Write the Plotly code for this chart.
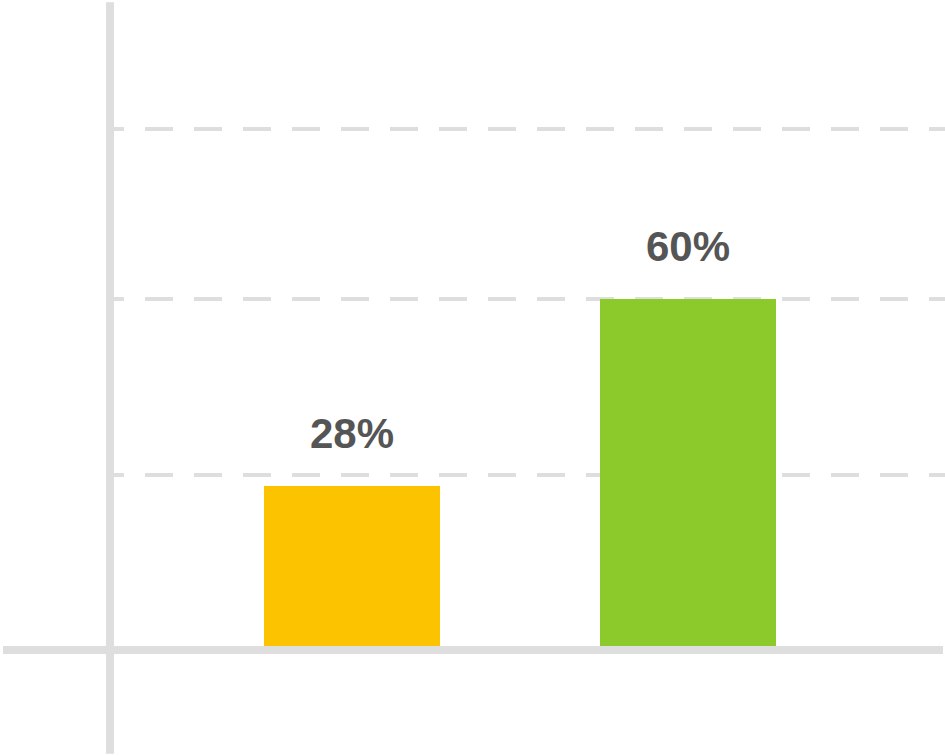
import plotly.graph_objects as go

categories = ["A", "B"]
values = [28, 60]
colors = ["#FCC400", "#8CC92A"]
grid_values = [30, 60, 89]

AXIS = "#DEDEDE"
W, H = 945, 756
L = 114
plot_w = W - L

fig = go.Figure()
fig.add_trace(go.Bar(
    x=categories, y=values, marker=dict(color=colors, line=dict(width=0)),
    width=0.524, hoverinfo="skip", showlegend=False,
))

for c, v in zip(categories, values):
    fig.add_annotation(x=c, y=v, text=f"<b>{v}%</b>", showarrow=False,
                       yanchor="middle", yshift=53,
                       font=dict(family="Liberation Sans, Arial, sans-serif", size=42, color="#555555"))

# axis lines
fig.add_shape(type="line", xref="paper", yref="paper",
              x0=(110 - L) / plot_w, x1=(110 - L) / plot_w, y0=0.003, y1=0.997,
              line=dict(color=AXIS, width=8), layer="above")
fig.add_shape(type="line", xref="paper", yref="y",
              x0=(3 - L) / plot_w, x1=(943 - L) / plot_w, y0=0, y1=0,
              line=dict(color=AXIS, width=8), layer="above")

dash = "10px,21px," + "28px,21px," * 17 + "28px,21px"
k = 5.85
zero_px = 650
fig.update_layout(
    width=W, height=H, margin=dict(l=L, r=0, t=0, b=0),
    paper_bgcolor="white", plot_bgcolor="white",
    xaxis=dict(range=[-238 / 336, (plot_w - 238) / 336], showgrid=False, zeroline=False,
               showticklabels=False, showline=False, fixedrange=True),
    yaxis=dict(range=[-(H - zero_px) / k, zero_px / k], tickvals=grid_values,
               showgrid=True, gridcolor=AXIS, gridwidth=4, griddash=dash,
               zeroline=False, showticklabels=False, showline=False, fixedrange=True),
    bargap=0,
)

fig.write_html("out.html", config={"displayModeBar": False},
               post_script="document.body.style.margin='0';document.body.style.overflow='hidden';")
